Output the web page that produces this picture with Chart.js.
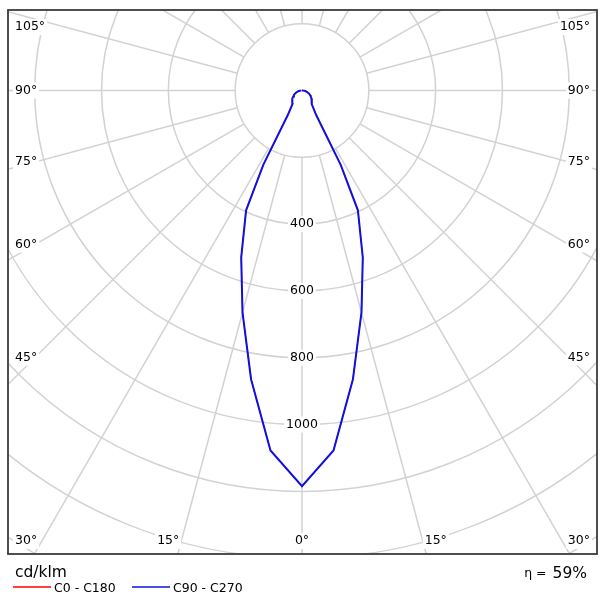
<!DOCTYPE html>
<html>
<head>
<meta charset="utf-8">
<script src="https://cdn.jsdelivr.net/npm/chart.js@4.4.0/dist/chart.umd.min.js"></script>
<style>
  html, body { margin: 0; padding: 0; background: #fff; }
  canvas { display: block; }
</style>
</head>
<body>
<canvas id="polar" width="610" height="604"></canvas>
<script>
// gamma angles (deg, 0 = straight down) and intensities in cd/klm per C-plane
const gammaDeg = [0, 5, 10, 15, 20, 25, 27.5, 30, 35, 40, 45, 50, 55, 60, 65, 70, 75, 80, 85, 90, 105, 120, 135, 150, 165, 180];
const c0   = [1185, 1082, 878, 688, 532, 396, 251, 85, 50, 46, 41, 37, 32, 28, 24, 19, 15, 10, 5, 2, 0, 0, 0, 0, 0, 0];
const c180 = [1185, 1082, 878, 688, 532, 396, 251, 85, 50, 46, 41, 37, 32, 28, 24, 19, 15, 10, 5, 2, 0, 0, 0, 0, 0, 0];
const c90  = [1185, 1082, 878, 688, 532, 396, 251, 85, 50, 46, 41, 37, 32, 28, 24, 19, 15, 10, 5, 2, 0, 0, 0, 0, 0, 0];
const c270 = [1185, 1082, 878, 688, 532, 396, 251, 85, 50, 46, 41, 37, 32, 28, 24, 19, 15, 10, 5, 2, 0, 0, 0, 0, 0, 0];

// grid and labels
const ringValues = [200, 400, 600, 800, 1000, 1200, 1400, 1600, 1800];
const ringLabels = [400, 600, 800, 1000];
const sideAngleLabels = [105, 90, 75, 60, 45, 30];
const bottomAngleLabels = [15, 0];
const unitLabel = "cd/klm";
const efficiency = "59%";

const FONT = "DejaVu Sans, Verdana, sans-serif";

// polar (gamma, I) -> cartesian, side = +1 right half, -1 left half
function polar(I, g, side) {
    const rad = g * Math.PI / 180;
    return { x: side * I * Math.sin(rad), y: -I * Math.cos(rad) };
}

function planePoints(right, left) {
    const pts = [];
    for (let i = gammaDeg.length - 1; i >= 0; i--) pts.push(polar(right[i], gammaDeg[i], 1));
    for (let i = 0; i < gammaDeg.length; i++) pts.push(polar(left[i], gammaDeg[i], -1));
    return pts;
}

function boxedText(ctx, text, x, y, align) {
    ctx.textAlign = align;
    const w = ctx.measureText(text).width;
    let bx = x;
    if (align === "center") bx = x - w / 2;
    if (align === "right") bx = x - w;
    ctx.fillStyle = "#ffffff";
    ctx.fillRect(bx - 2, y - 8, w + 4, 16);
    ctx.fillStyle = "#000000";
    ctx.fillText(text, x, y);
}

const polarGrid = {
    id: "polarGrid",
    beforeDatasetsDraw(chart) {
        const { ctx, chartArea: a, scales: { x, y } } = chart;
        const cx = x.getPixelForValue(0), cy = y.getPixelForValue(0);
        const k = (x.getPixelForValue(1000) - cx) / 1000;

        ctx.save();
        ctx.beginPath();
        ctx.rect(a.left, a.top, a.width, a.height);
        ctx.clip();

        ctx.strokeStyle = "#d2d2d2";
        ctx.lineWidth = 1.5;
        ringValues.forEach(v => {
            ctx.beginPath();
            ctx.arc(cx, cy, v * k, 0, Math.PI * 2);
            ctx.stroke();
        });
        const r0 = ringValues[0] * k, r1 = 2200 * k;
        for (let g = 0; g < 360; g += 15) {
            const rad = g * Math.PI / 180;
            const dx = Math.sin(rad), dy = Math.cos(rad);
            ctx.beginPath();
            ctx.moveTo(cx + dx * r0, cy + dy * r0);
            ctx.lineTo(cx + dx * r1, cy + dy * r1);
            ctx.stroke();
        }

        ctx.font = "12.5px " + FONT;
        ctx.textBaseline = "middle";

        // intensity labels along the 0 deg line
        ringLabels.forEach(v => boxedText(ctx, String(v), cx, cy + v * k, "center"));

        // angle labels on the left and right edges
        sideAngleLabels.forEach(g => {
            const rad = g * Math.PI / 180;
            const xl = a.left + 27;
            let ly = cy + (cx - xl) * Math.cos(rad) / Math.sin(rad);
            ly = Math.max(a.top + 17, Math.min(a.bottom - 13, ly));
            boxedText(ctx, g + "°", a.left + 7, ly, "left");
            boxedText(ctx, g + "°", a.right - 7, ly, "right");
        });

        // angle labels along the bottom edge
        const by = a.bottom - 13;
        bottomAngleLabels.forEach(g => {
            const off = (by - cy) * Math.tan(g * Math.PI / 180);
            if (g === 0) {
                boxedText(ctx, "0°", cx, by, "center");
            } else {
                boxedText(ctx, g + "°", cx - off - 2, by, "right");
                boxedText(ctx, g + "°", cx + off + 2, by, "left");
            }
        });
        ctx.restore();
    },
    afterDraw(chart) {
        const { ctx, chartArea: a } = chart;
        ctx.save();
        ctx.strokeStyle = "#3c3c3c";
        ctx.lineWidth = 1.8;
        ctx.strokeRect(a.left, a.top, a.width, a.height);

        ctx.fillStyle = "#000000";
        ctx.textBaseline = "alphabetic";
        ctx.textAlign = "left";
        ctx.font = "15.5px " + FONT;
        ctx.fillText(unitLabel, 15, 577);

        // legend, in dataset order
        ctx.font = "12.5px " + FONT;
        let lx = 13;
        chart.data.datasets.forEach(ds => {
            ctx.strokeStyle = ds.borderColor;
            ctx.lineWidth = 1.5;
            ctx.beginPath();
            ctx.moveTo(lx, 587);
            ctx.lineTo(lx + 38, 587);
            ctx.stroke();
            ctx.fillStyle = "#000000";
            ctx.fillText(ds.label, lx + 41, 592);
            lx += 119;
        });

        // efficiency
        ctx.textAlign = "right";
        ctx.font = "15.5px " + FONT;
        ctx.fillText(efficiency, 587, 578);
        const w = ctx.measureText(efficiency).width;
        ctx.font = "12.5px " + FONT;
        ctx.fillText("η = ", 587 - w - 2, 577);
        ctx.restore();
    }
};

new Chart(document.getElementById("polar"), {
    type: "scatter",
    data: {
        datasets: [
            {
                label: "C0 - C180",
                data: planePoints(c0, c180),
                showLine: true,
                borderColor: "#ff0000",
                borderWidth: 1,
                pointRadius: 0,
                tension: 0,
                order: 2
            },
            {
                label: "C90 - C270",
                data: planePoints(c90, c270),
                showLine: true,
                borderColor: "#1010e0",
                borderWidth: 2,
                pointRadius: 0,
                tension: 0,
                order: 1
            }
        ]
    },
    options: {
        responsive: false,
        animation: false,
        layout: { padding: { left: 8, top: 10, right: 13, bottom: 50 } },
        scales: {
            x: { type: "linear", display: false, min: -880, max: 883 },
            y: { type: "linear", display: false, min: -1388, max: 241 }
        },
        plugins: {
            legend: { display: false },
            tooltip: { enabled: false }
        }
    },
    plugins: [polarGrid]
});
</script>
</body>
</html>
